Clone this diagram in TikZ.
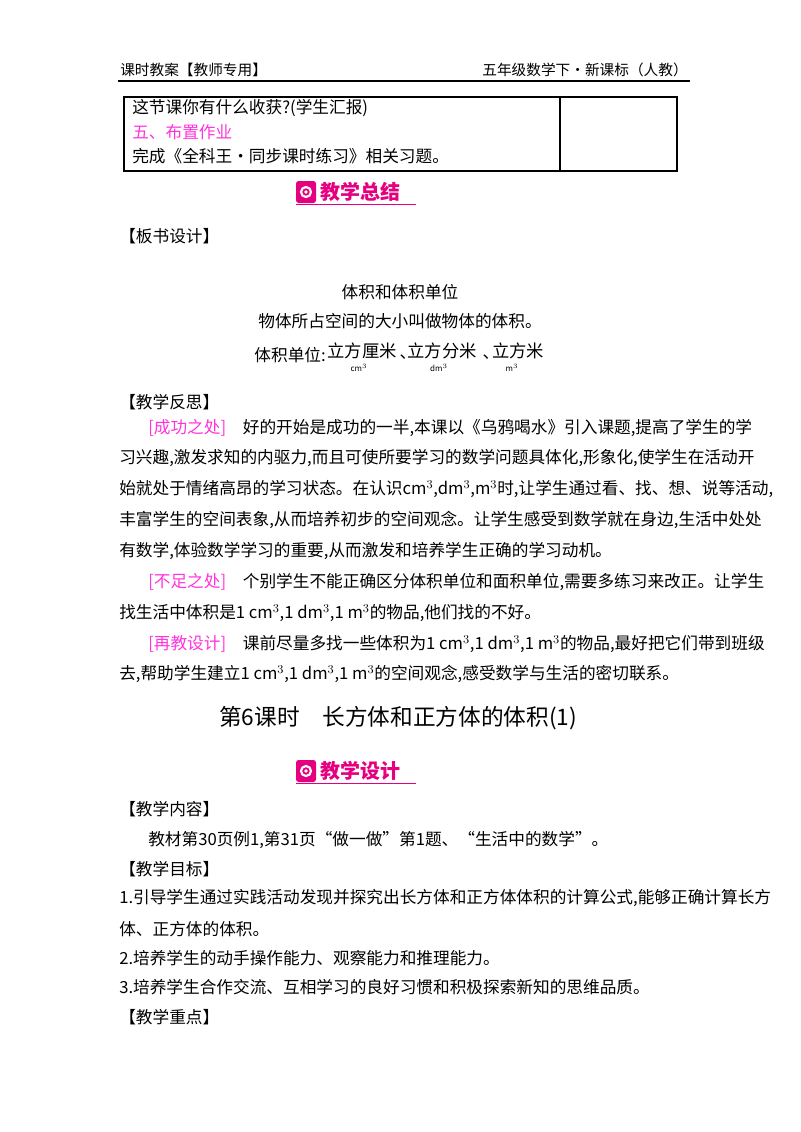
\documentclass[tikz,border=0pt]{standalone}
\usepackage{fontspec}
\setmainfont{Noto Sans CJK SC}
\usetikzlibrary{positioning}
\definecolor{hotpink}{HTML}{FF33DD}
\definecolor{logopink}{HTML}{E4007F}
\tikzset{
    txt/.style={anchor=west, inner sep=0pt, font=\fontsize{12.5}{14}\selectfont},
    head/.style={anchor=west, inner sep=0pt, font=\fontsize{11}{13}\selectfont},
    unit/.style={inner sep=0pt, font=\fontsize{13}{15}\selectfont},
    sub/.style={inner sep=0pt, font=\fontsize{6}{7}\selectfont\itshape},
    logo/.style={anchor=west, inner sep=0pt, text=logopink, font=\fontsize{15}{17}\selectfont\bfseries}
}
\newcommand{\pinkmark}[2]{%
    \fill[logopink, rounded corners=2] (#1-10, #2-11) rectangle (#1+10, #2+11);
    \draw[white, line width=1.6] (#1, #2) circle (5);
    \fill[white] (#1, #2) circle (1.8);
}
\begin{document}
\begin{tikzpicture}[x=0.75pt, y=-0.75pt]
    \useasboundingbox (0, 0) rectangle (800, 1132);
    % header
    \node[head] (hl) at (120, 70) {课时教案【教师专用】};
    \node[head, anchor=east] (hr) at (688, 70) {五年级数学下·新课标（人教）};
    \draw[line width=1.2] (118, 81) -- (690, 81);
    % table
    \draw[line width=0.8] (124, 97) rectangle (677, 171);
    \draw[line width=0.8] (560, 97) -- (560, 171);
    \node[txt] (r1) at (132, 108) {这节课你有什么收获?(学生汇报)};
    \node[txt, text=hotpink] (r2) at (132, 132) {五、布置作业};
    \node[txt] (r3) at (132, 156) {完成《全科王·同步课时练习》相关习题。};
    % summary banner
    \pinkmark{306}{192}
    \node[logo] (sum) at (320, 192) {教学总结};
    \draw[logopink] (296, 204) -- (416, 204);
    \node[txt] (bs) at (119, 236) {【板书设计】};
    \node[txt, anchor=center] (t1) at (400, 292) {体积和体积单位};
    \node[txt, anchor=center] (t2) at (400, 321) {物体所占空间的大小叫做物体的体积。};
    \node[txt, anchor=east] (tu) at (326, 355) {体积单位:};
    \node[unit, anchor=center] (u1) at (362, 351) {立方厘米};
    \node[txt, anchor=center] (d1) at (408, 357) {、};
    \node[unit, anchor=center] (u2) at (442, 351) {立方分米};
    \node[txt, anchor=center] (d2) at (491, 357) {、};
    \node[unit, anchor=center] (u3) at (518, 351) {立方米};
    \node[sub] (s1) at (359, 368) {cm$^3$};
    \node[sub] (s2) at (439, 368) {dm$^3$};
    \node[sub] (s3) at (512, 368) {m$^3$};
    % reflection
    \node[txt] (fs) at (119, 402) {【教学反思】};
    \node[txt] (p1) at (148, 428) {\textcolor{hotpink}{[成功之处]}\quad 好的开始是成功的一半,本课以《乌鸦喝水》引入课题,提高了学生的学};
    \node[txt] (p2) at (119, 458) {习兴趣,激发求知的内驱力,而且可使所要学习的数学问题具体化,形象化,使学生在活动开};
    \node[txt] (p3) at (119, 489) {始就处于情绪高昂的学习状态。在认识cm$^3$,dm$^3$,m$^3$时,让学生通过看、找、想、说等活动,};
    \node[txt] (p4) at (119, 520) {丰富学生的空间表象,从而培养初步的空间观念。让学生感受到数学就在身边,生活中处处};
    \node[txt] (p5) at (119, 551) {有数学,体验数学学习的重要,从而激发和培养学生正确的学习动机。};
    \node[txt] (p6) at (148, 582) {\textcolor{hotpink}{[不足之处]}\quad 个别学生不能正确区分体积单位和面积单位,需要多练习来改正。让学生};
    \node[txt] (p7) at (119, 613) {找生活中体积是1 cm$^3$,1 dm$^3$,1 m$^3$的物品,他们找的不好。};
    \node[txt] (p8) at (148, 644) {\textcolor{hotpink}{[再教设计]}\quad 课前尽量多找一些体积为1 cm$^3$,1 dm$^3$,1 m$^3$的物品,最好把它们带到班级};
    \node[txt] (p9) at (119, 674) {去,帮助学生建立1 cm$^3$,1 dm$^3$,1 m$^3$的空间观念,感受数学与生活的密切联系。};
    % lesson title
    \node[inner sep=0pt, font=\fontsize{17}{20}\selectfont] (title) at (398, 718) {第6课时\quad 长方体和正方体的体积(1)};
    \pinkmark{306}{771}
    \node[logo] (des) at (320, 771) {教学设计};
    \draw[logopink] (296, 783) -- (416, 783);
    \node[txt] (nr) at (119, 809) {【教学内容】};
    \node[txt] (c1) at (148, 840) {教材第30页例1,第31页“做一做”第1题、“生活中的数学”。};
    \node[txt] (mb) at (119, 869) {【教学目标】};
    \node[txt] (g1) at (119, 898) {1.引导学生通过实践活动发现并探究出长方体和正方体体积的计算公式,能够正确计算长方};
    \node[txt] (g1b) at (119, 929) {体、正方体的体积。};
    \node[txt] (g2) at (119, 958) {2.培养学生的动手操作能力、观察能力和推理能力。};
    \node[txt] (g3) at (119, 987) {3.培养学生合作交流、互相学习的良好习惯和积极探索新知的思维品质。};
    \node[txt] (zd) at (119, 1017) {【教学重点】};
\end{tikzpicture}
\end{document}
